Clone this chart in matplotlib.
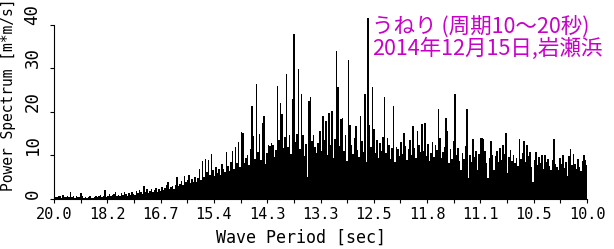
import numpy as np
import matplotlib.pyplot as plt

# tick positions (frequency, Hz) and their period labels
tick_freqs = [0.05, 0.055, 0.06, 0.065, 0.07, 0.075, 0.08, 0.085, 0.09, 0.095, 0.1]
tick_labels = ['20.0', '18.2', '16.7', '15.4', '14.3', '13.3', '12.5', '11.8', '11.1', '10.5', '10.0']
y_ticks = [0, 10, 20, 30, 40]

# power spectrum values, low -> high frequency
power = [
    0.3, 0.5, 0.4, 0.8, 0.6, 0.3, 0.9, 0.5, 0.4, 0.7,
    0.5, 1.6, 0.4, 0.6, 0.3, 0.8, 0.5, 0.4, 1.3, 0.6,
    0.3, 0.5, 0.2, 0.4, 0.6, 0.3, 0.2, 0.5, 0.7, 0.4,
    0.6, 0.9, 0.4, 0.7, 2.0, 0.5, 0.8, 1.1, 0.6, 0.9,
    1.2, 1.5, 0.7, 1.0, 0.8, 1.3, 0.9, 1.6, 1.1, 0.8,
    1.4, 1.0, 1.7, 1.2, 0.9, 1.8, 1.3, 2.1, 1.5, 1.2,
    3.0, 1.6, 2.2, 1.4, 1.9, 2.4, 1.5, 2.0, 2.6, 1.7,
    2.3, 1.8, 2.8, 2.1, 2.5, 3.1, 4.0, 2.2, 2.7, 3.0,
    2.4, 3.3, 5.0, 2.9, 3.5, 4.1, 3.2, 5.2, 3.8, 4.4,
    5.5, 3.6, 4.6, 4.0, 5.1, 3.9, 4.8, 7.0, 4.3, 8.7,
    5.0, 9.2, 6.2, 9.0, 5.4, 10.3, 6.6, 5.2, 7.4, 5.9,
    6.8, 5.6, 8.0, 7.0, 6.1, 10.7, 7.5, 6.4, 8.6, 11.0,
    6.9, 12.0, 8.2, 13.0, 7.3, 15.4, 15.2, 8.3, 9.4, 10.0,
    7.8, 11.5, 21.4, 14.5, 9.2, 26.5, 10.8, 15.0, 8.9, 17.5,
    19.0, 8.0, 10.5, 12.5, 12.2, 12.8, 12.4, 9.6, 11.2, 26.0,
    13.5, 22.0, 19.5, 11.8, 14.2, 28.7, 12.0, 14.8, 10.4, 23.0,
    37.9, 13.0, 15.0, 29.8, 11.5, 24.0, 14.8, 9.8, 12.6, 5.0,
    22.5, 23.3, 13.2, 14.8, 12.0, 10.6, 12.8, 15.5, 11.0, 19.0,
    13.6, 18.0, 10.2, 19.8, 12.4, 20.2, 9.5, 13.8, 34.0, 25.6,
    12.2, 18.3, 18.7, 11.0, 14.6, 8.8, 32.0, 17.0, 12.5, 10.4,
    14.0, 16.8, 11.3, 9.6, 19.0, 13.2, 10.8, 24.0, 8.4, 41.5,
    17.0, 12.0, 25.6, 16.0, 10.5, 13.5, 9.3, 12.8, 11.0, 14.2,
    23.3, 10.6, 14.0, 12.4, 9.2, 11.8, 21.4, 8.6, 12.0, 11.5,
    9.8, 13.0, 10.4, 15.2, 12.1, 9.0, 11.4, 13.6, 10.2, 16.8,
    11.6, 9.4, 15.5, 12.3, 10.8, 17.2, 11.0, 17.5, 9.9, 12.6,
    8.7, 10.5, 13.1, 9.6, 12.5, 11.2, 20.6, 14.0, 9.3, 10.7,
    12.0, 18.7, 15.6, 8.3, 11.4, 9.1, 13.3, 24.0, 10.2, 11.8,
    8.8, 6.7, 10.5, 9.1, 12.2, 20.6, 4.8, 10.2, 8.6, 13.7,
    9.7, 11.0, 6.7, 10.4, 14.0, 14.0, 13.8, 11.0, 8.2, 4.8,
    9.5, 13.3, 10.1, 6.7, 9.8, 11.0, 8.4, 11.8, 9.0, 12.5,
    10.3, 15.2, 6.0, 9.6, 11.2, 8.8, 10.0, 8.3, 9.4, 7.6,
    13.7, 9.2, 10.6, 13.3, 8.5, 12.5, 9.9, 10.7, 7.4, 4.0,
    8.9, 10.7, 7.8, 9.6, 8.2, 10.0, 7.0, 10.0, 8.4, 9.1,
    7.5, 6.7, 9.0, 13.7, 8.1, 7.3, 6.7, 9.4, 8.0, 10.0,
    7.2, 8.6, 5.2, 9.9, 11.5, 7.7, 10.3, 8.0, 6.9, 9.1,
    7.4, 6.4, 8.8, 10.0, 9.0, 7.9,
]

title1 = 'うねり (周期10～20秒)'
title2 = '2014年12月15日,岩瀬浜'

freq = np.linspace(0.05, 0.1, len(power))
df = freq[1] - freq[0]

plt.rcParams['font.family'] = ['DejaVu Sans Mono']

fig = plt.figure(figsize=(6.14, 2.49), dpi=100)
ax = fig.add_axes([54 / 614, 50 / 249, 533 / 614, 183 / 249])

ax.bar(freq, power, width=df, color='black', linewidth=0, antialiased=False)

ax.set_xlim(0.05, 0.1)
ax.set_ylim(0, 42)

ax.spines['top'].set_visible(False)
ax.spines['right'].set_visible(False)
ax.spines['left'].set_bounds(0, 40)

ax.set_xticks(tick_freqs)
ax.set_xticklabels(tick_labels, fontsize=11)
ax.set_xticks([f + 0.0025 for f in tick_freqs[:-1]], minor=True)
ax.tick_params(axis='x', which='both', length=3, width=0.8, pad=3)

ax.set_yticks(y_ticks)
ax.set_yticklabels([str(v) for v in y_ticks], fontsize=12.5, rotation=90, va='bottom')
ax.tick_params(axis='y', length=3, width=0.8, pad=6)

fig.text(9 / 614, 1 - 95 / 249, 'Power Spectrum [m*m/s]', rotation=90,
         ha='center', va='center', fontsize=10.5)
fig.text(301 / 614, 1 - 238 / 249, 'Wave Period [sec]', ha='center', va='center', fontsize=12)

cjk = ['Noto Sans CJK JP', 'DejaVu Sans']
fig.text(372 / 614, 1 - 27 / 249, title1, family=cjk, color='#c800c8',
         ha='left', va='center', fontsize=15.5)
fig.text(372 / 614, 1 - 49 / 249, title2, family=cjk, color='#c800c8',
         ha='left', va='center', fontsize=15.5)

fig.savefig('out.png', dpi=100)
